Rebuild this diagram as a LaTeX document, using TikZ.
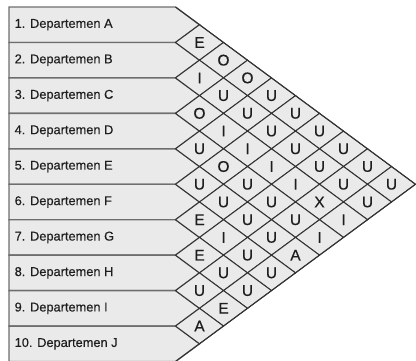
\documentclass[tikz,border=0pt]{standalone}
\usepackage{fontspec}
\setmainfont{Liberation Sans}
\newfontfamily\heavyfont[FakeBold=0.4]{Liberation Sans}
\usetikzlibrary{shapes.geometric}
\definecolor{cellfill}{HTML}{EAEAEA}
\definecolor{rowline}{HTML}{6E6E6E}
\definecolor{cellline}{HTML}{333333}
\definecolor{txt}{HTML}{1E1E1E}
\begin{document}
\begin{tikzpicture}[x=1pt,y=-1pt,
  rowbox/.style={fill=cellfill, draw=rowline, line width=1.4pt, line join=miter},
  cell/.style={diamond, draw=cellline, fill=cellfill, line width=1pt,
    minimum width=48pt, minimum height=35.45pt, inner sep=0pt, outer sep=0pt,
    font=\heavyfont\fontsize{15.5}{15.5}\selectfont, text=txt},
  lbl/.style={anchor=west, inner sep=0pt, font=\heavyfont\fontsize{12.8}{13}\selectfont, text=txt},
  outline/.style={draw=cellline, line width=1pt}]
\useasboundingbox (0,0) rectangle (416,360);
\def\H{35.45}
\foreach \i/\nm in {1/A,2/B,3/C,4/D,5/E,6/F,7/G,8/H,9/I,10/J} {
  \pgfmathsetmacro\tp{7+(\i-1)*\H}
  \pgfmathsetmacro\cy{\tp+\H/2}
  \pgfmathsetmacro\bt{\tp+\H}
  \draw[rowbox] (9,\tp) -- (175.5,\tp) -- (199.5,\cy) -- (175.5,\bt) -- (9,\bt) -- cycle;
  \node[lbl] (d\i) at (14.5,\cy) {\i. Departemen \nm};
}
\foreach \i/\j/\t in {
  1/2/E,1/3/O,1/4/O,1/5/U,1/6/U,1/7/U,1/8/U,1/9/U,1/10/U,
  2/3/I,2/4/U,2/5/U,2/6/U,2/7/U,2/8/U,2/9/U,2/10/U,
  3/4/O,3/5/I,3/6/I,3/7/I,3/8/I,3/9/X,3/10/I,
  4/5/U,4/6/O,4/7/U,4/8/U,4/9/U,4/10/I,
  5/6/U,5/7/U,5/8/U,5/9/U,5/10/A,
  6/7/E,6/8/I,6/9/U,6/10/U,
  7/8/E,7/9/U,7/10/U,
  8/9/U,8/10/E,
  9/10/A} {
  \pgfmathsetmacro\cx{175.5+(\j-\i)*24}
  \pgfmathsetmacro\cyy{7+((\i+\j-1)/2)*\H}
  \node[cell] (c\i-\j) at (\cx,\cyy) {\t};
}
\coordinate (tl) at (175.5,7);
\coordinate (bl) at (175.5,361.5);
\draw[outline] (tl) -- (c1-10.east) -- (bl);
\end{tikzpicture}
\end{document}
